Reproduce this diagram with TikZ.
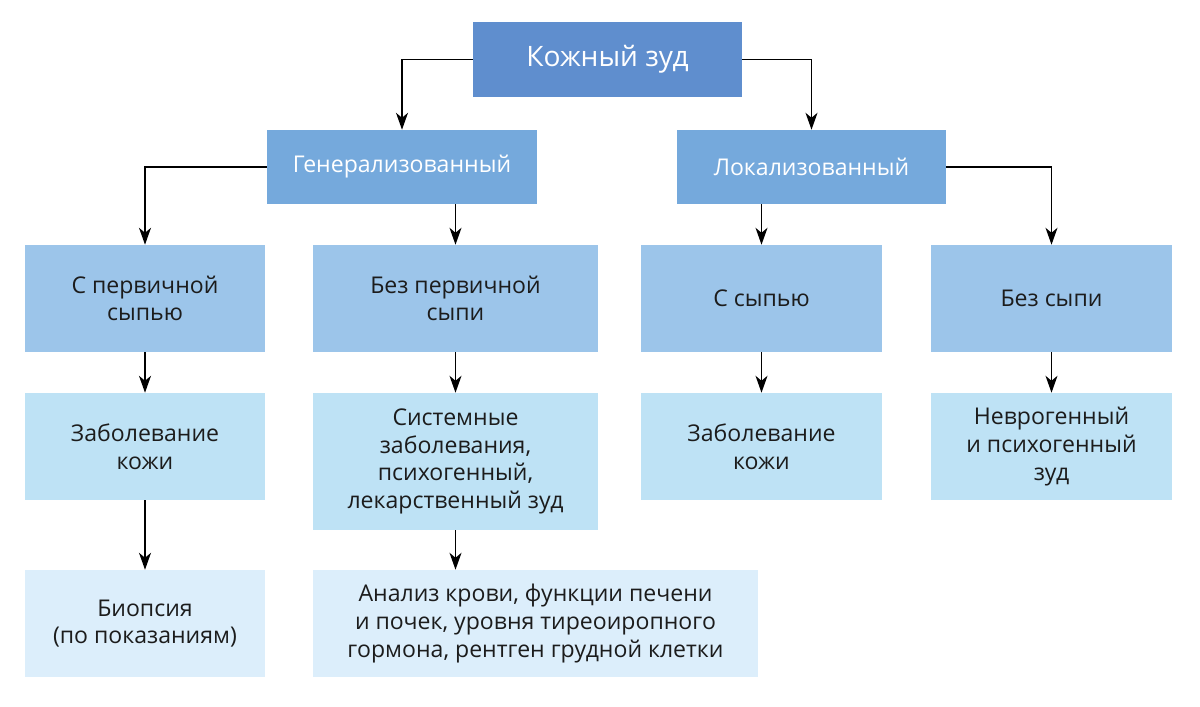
\documentclass[tikz,border=0pt]{standalone}
\usepackage{fontspec}
\setmainfont{Open Sans}
\usetikzlibrary{arrows.meta}
\definecolor{lvlA}{HTML}{5F8ECE}
\definecolor{lvlB}{HTML}{75A9DC}
\definecolor{lvlC}{HTML}{9CC5EA}
\definecolor{lvlD}{HTML}{BEE2F5}
\definecolor{lvlE}{HTML}{DCEEFB}
\definecolor{txt}{HTML}{1C1C1C}
\begin{document}
\begin{tikzpicture}[x=0.025cm,y=-0.025cm,
	box/.style={inner sep=0pt, align=center, text=txt, font=\fontsize{16.4}{19.6}\selectfont},
	arr/.style={line width=1pt, -{Stealth[length=12pt,width=8.5pt,inset=3.5pt]}}]
	\useasboundingbox (0,0) rectangle (1200,707);
	\fill[white] (0,0) rectangle (1200,707);

	\node [box, fill=lvlA, text=white, minimum width=269*0.025cm, minimum height=75*0.025cm, font=\fontsize{20}{24}\selectfont] (itch) at (607.5,59.5) {Кожный зуд};
	\node [box, fill=lvlB, text=white, minimum width=270*0.025cm, minimum height=74*0.025cm] (gen) at (402,167) {Генерализованный};
	\node [box, fill=lvlB, text=white, minimum width=269*0.025cm, minimum height=74*0.025cm] (loc) at (811.5,167) {Локализованный};

	\node [box, fill=lvlC, minimum width=240*0.025cm, minimum height=107*0.025cm] (rashA) at (145,298.5) {С первичной\\сыпью};
	\node [box, fill=lvlC, minimum width=285*0.025cm, minimum height=107*0.025cm] (norashA) at (455.5,298.5) {Без первичной\\сыпи};
	\node [box, fill=lvlC, minimum width=241*0.025cm, minimum height=107*0.025cm] (rashB) at (761.5,298.5) {С сыпью};
	\node [box, fill=lvlC, minimum width=241*0.025cm, minimum height=107*0.025cm] (norashB) at (1051.5,298.5) {Без сыпи};

	\node [box, fill=lvlD, minimum width=240*0.025cm, minimum height=107*0.025cm] (skinA) at (145,446.5) {Заболевание\\кожи};
	\node [box, fill=lvlD, minimum width=285*0.025cm, minimum height=137*0.025cm] (syst) at (455.5,461.5) {Системные\\заболевания,\\психогенный,\\лекарственный зуд};
	\node [box, fill=lvlD, minimum width=241*0.025cm, minimum height=107*0.025cm] (skinB) at (761.5,446.5) {Заболевание\\кожи};
	\node [box, fill=lvlD, minimum width=241*0.025cm, minimum height=107*0.025cm] (neuro) at (1051.5,446.5) {Неврогенный\\и психогенный\\зуд};

	\node [box, fill=lvlE, minimum width=240*0.025cm, minimum height=107*0.025cm] (biopsy) at (145,623.5) {Биопсия\\(по показаниям)};
	\node [box, fill=lvlE, minimum width=445*0.025cm, minimum height=107*0.025cm] (tests) at (535.5,623.5) {Анализ крови, функции печени\\и почек, уровня тиреоиропного\\гормона, рентген грудной клетки};

	% connectors
	\draw [arr] (itch.west) -| (gen.north);
	\draw [arr] (itch.east) -| (loc.north);
	\draw [arr] (gen.west) -| (rashA.north);
	\draw [arr] (gen.south -| norashA.north) -- (norashA.north);
	\draw [arr] (loc.south -| rashB.north) -- (rashB.north);
	\draw [arr] (loc.east) -| (norashB.north);
	\draw [arr] (rashA) -- (skinA);
	\draw [arr] (norashA) -- (syst);
	\draw [arr] (rashB) -- (skinB);
	\draw [arr] (norashB) -- (neuro);
	\draw [arr] (skinA) -- (biopsy);
	\draw [arr] (syst.south) -- (syst.south |- tests.north);
\end{tikzpicture}
\end{document}
